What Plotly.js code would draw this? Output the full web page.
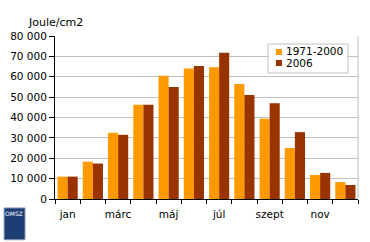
<!DOCTYPE html>
<html><head><meta charset="utf-8">
<script src="https://cdn.plot.ly/plotly-3.0.1.min.js"></script>
<style>html,body{margin:0;padding:0;background:#fff}#c{width:370px;height:242px}</style>
</head><body><div id="c"></div>
<script>
const months = ["jan","febr","márc","ápr","máj","jún","júl","aug","szept","okt","nov","dec"];
const monthLabels = ["jan","","márc","","máj","","júl","","szept","","nov",""];
const normal = [11000,18300,32500,46200,60500,64000,64700,56400,39400,25000,11800,8300];
const y2006 = [11000,17400,31500,46200,55000,65300,71800,51000,47000,32800,12800,6900];
const seriesNames = ["1971-2000","2006"];
const colors = ["#FF9900","#993300"];

const ff = "DejaVu Sans, Verdana, sans-serif";
const font = {family:ff, size:10.5, color:"#000"};
const data = [
  {type:"bar", x:months, y:normal, name:seriesNames[0], marker:{color:colors[0]}},
  {type:"bar", x:months, y:y2006, name:seriesNames[1], marker:{color:colors[1]}}
];
const layout = {
  width:370, height:242,
  margin:{l:55, r:12, t:36, b:43},
  paper_bgcolor:"#fff", plot_bgcolor:"#fff",
  font:font,
  separators:", ",
  barmode:"group", bargap:0.2, bargroupgap:0,
  showlegend:false,
  xaxis:{type:"category", tickmode:"array", tickvals:months, ticktext:monthLabels,
    tickson:"boundaries", ticks:"outside", ticklen:4, tickcolor:"#000", tickangle:0,
    ticklabelstandoff:5,
    showline:true, linecolor:"#000", linewidth:1, showgrid:false,
    tickfont:font, fixedrange:true},
  yaxis:{range:[0,80000], dtick:10000, tickformat:",d", ticks:"outside", ticklen:5,
    tickcolor:"#000", showline:true, linecolor:"#000", linewidth:1,
    showgrid:true, gridcolor:"#c0c0c0", zeroline:false, tickfont:font, fixedrange:true},
  shapes:[
    {type:"line", xref:"paper", yref:"paper", x0:1, x1:1, y0:0, y1:1, line:{color:"#c0c0c0", width:1}},
    {type:"rect", xref:"paper", yref:"paper", x0:0.703, x1:0.967, y0:0.773, y1:0.951, fillcolor:"#fff", line:{color:"#c0c0c0", width:1}},
    {type:"rect", xref:"paper", yref:"paper", x0:0.729, x1:0.749, y0:0.883, y1:0.920, fillcolor:colors[0], line:{width:0}},
    {type:"rect", xref:"paper", yref:"paper", x0:0.729, x1:0.749, y0:0.816, y1:0.853, fillcolor:colors[1], line:{width:0}},
    {type:"rect", xref:"paper", yref:"paper", x0:-0.168, x1:-0.099, y0:-0.055, y1:-0.25, fillcolor:"#1d3d73", line:{color:"#8899bb", width:1}}
  ],
  annotations:[
    {text:"Joule/cm2", xref:"paper", yref:"paper", x:-0.095, y:1.08, xanchor:"left", yanchor:"middle",
      showarrow:false, font:{family:ff, size:11, color:"#000"}},
    {text:seriesNames[0], xref:"paper", yref:"paper", x:0.755, y:0.905, xanchor:"left", yanchor:"middle",
      showarrow:false, font:{family:ff, size:10.5, color:"#000"}},
    {text:seriesNames[1], xref:"paper", yref:"paper", x:0.755, y:0.834, xanchor:"left", yanchor:"middle",
      showarrow:false, font:{family:ff, size:10.5, color:"#000"}},
    {text:"OMSZ", xref:"paper", yref:"paper", x:-0.134, y:-0.09, xanchor:"center", yanchor:"middle",
      showarrow:false, font:{family:ff, size:6, color:"#fff"}}
  ]
};
Plotly.newPlot("c", data, layout, {displayModeBar:false, staticPlot:true});
</script></body></html>
